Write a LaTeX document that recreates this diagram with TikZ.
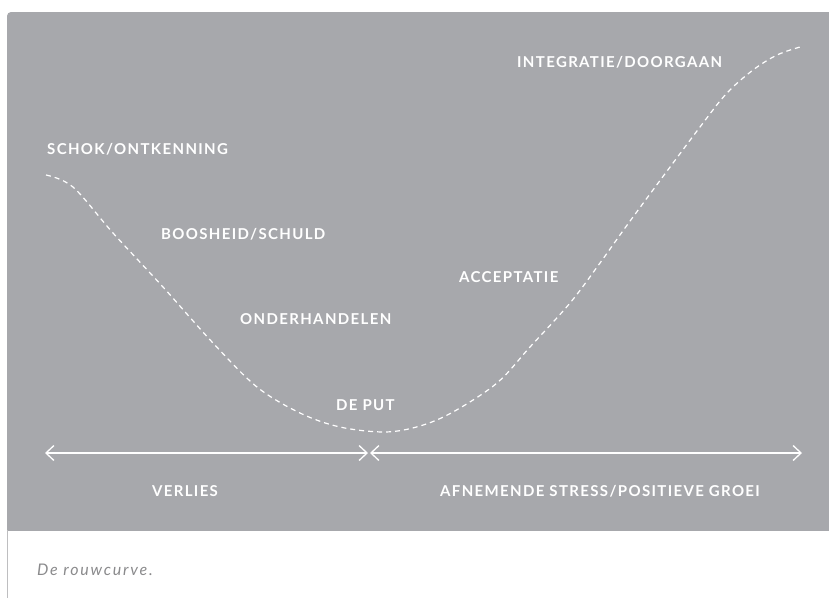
\documentclass[tikz,border=0pt]{standalone}
\usepackage{fontspec}
\setmainfont{Lato}
\newfontfamily\stagefont{Lato}[LetterSpace=9]
\newfontfamily\captionfont{Lato}[LetterSpace=11]
\usetikzlibrary{
  positioning,
  arrows.meta
}
\definecolor{panelgrey}{RGB}{167,168,172}
\definecolor{captiongrey}{RGB}{138,138,140}
\definecolor{ruleline}{RGB}{190,190,192}

\begin{document}
\begin{tikzpicture}[
    x=1pt, y=-1pt, >={Straight Barb[length=8pt,width=15pt]},
    stage/.style={
      text=white,
      font=\stagefont\bfseries\fontsize{15}{15}\selectfont,
      anchor=base west,
      inner sep=0pt
    },
    curve/.style={
      draw=white,
      line width=1.2pt,
      dash pattern=on 5pt off 4pt
    },
    phase/.style={
      draw=white,
      line width=1.3pt,
      <->
    }
  ]

  \useasboundingbox (0,0) rectangle (829,598);

  % Panel
  \begin{scope}
    \clip (0,0) rectangle (829,530);
    \fill[panelgrey, rounded corners=4pt] (7,12) rectangle (850,560);
  \end{scope}
  \draw[ruleline, line width=1.2pt] (7.6,530) -- (7.6,598);

  % Rouwcurve
  \draw[curve] plot[smooth, tension=0.55] coordinates {
    (46,175) (73,187) (113,233) (163,287) (213,343) (257,387)
    (300,413) (340,427) (385,432) (420,426) (453,412) (497,383)
    (530,347) (570,303) (600,263) (633,217) (700,127) (727,93)
    (753,70) (777,55) (800,47)};

  % Stages
  \node[stage] (schok) at (47,154) {SCHOK/ONTKENNING};
  \node[stage] (boosheid) at (161,239) {BOOSHEID/SCHULD};
  \node[stage] (onderhandelen) at (240,324) {ONDERHANDELEN};
  \node[stage] (put) at (336,410) {DE PUT};
  \node[stage] (acceptatie) at (459,282) {ACCEPTATIE};
  \node[stage] (integratie) at (517,67) {INTEGRATIE/DOORGAAN};

  % Phases
  \coordinate (verlies-l) at (45,453);
  \coordinate (keer) at (369,453);
  \coordinate (groei-r) at (802,453);
  \draw[phase] (verlies-l) -- ([xshift=-1pt]keer);
  \draw[phase] ([xshift=1pt]keer) -- (groei-r);
  \node[stage, anchor=base] (verlies) at (185,496) {VERLIES};
  \node[stage, anchor=base] (groei) at (600,496) {AFNEMENDE STRESS/POSITIEVE GROEI};

  % Caption
  \node[anchor=base west, inner sep=0pt, text=captiongrey,
    font=\captionfont\itshape\fontsize{16}{16}\selectfont] (caption) at (37,575) {De rouwcurve.};

\end{tikzpicture}
\end{document}
